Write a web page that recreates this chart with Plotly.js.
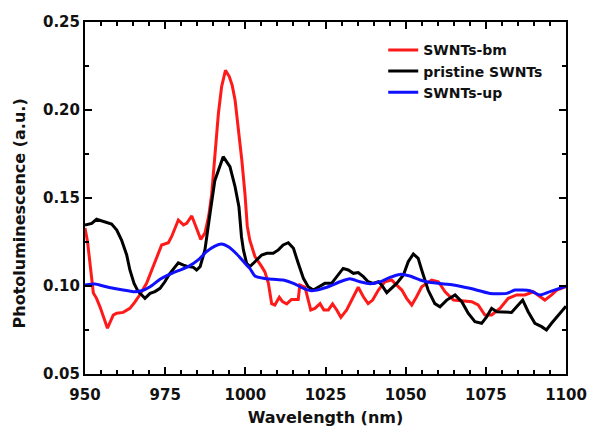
<!DOCTYPE html>
<html>
<head>
<meta charset="utf-8">
<script src="https://cdn.plot.ly/plotly-3.0.1.min.js"></script>
<style>
html,body{margin:0;padding:0;background:#fff;}
#chart{width:589px;height:429px;}
</style>
</head>
<body>
<div id="chart"></div>
<script>
// SWNTs-bm (red)
var bmX = [950.0,950.8,952.6,953.6,954.7,957.0,958.8,959.9,961.9,964.0,965.6,967.1,969.2,970.8,972.9,973.9,976.0,977.0,979.1,980.7,981.7,983.3,984.6,986.1,987.4,988.6,989.5,990.5,991.6,992.6,993.8,995.0,995.9,996.8,997.8,998.9,999.9,1000.6,1001.4,1003.0,1005.1,1006.1,1007.2,1008.2,1009.2,1010.6,1011.6,1012.9,1014.4,1016.5,1017.0,1018.6,1020.4,1021.7,1023.3,1024.5,1025.9,1027.2,1028.5,1029.8,1031.6,1033.7,1035.2,1036.8,1038.3,1039.7,1041.5,1043.5,1045.6,1047.2,1048.8,1050.3,1051.9,1053.4,1055.0,1058.1,1060.2,1062.3,1064.9,1070.6,1072.6,1074.7,1076.8,1079.4,1082.0,1084.6,1087.2,1089.8,1091.9,1093.4,1095.5,1097.1,1100.0];
var bmY = [0.133,0.125,0.096,0.093,0.088,0.076,0.0835,0.0845,0.085,0.0873,0.091,0.095,0.1015,0.109,0.1186,0.1233,0.1246,0.128,0.1375,0.1347,0.1356,0.1398,0.1337,0.1265,0.130,0.140,0.152,0.175,0.198,0.2132,0.2225,0.219,0.214,0.2057,0.1905,0.1716,0.152,0.134,0.126,0.1167,0.111,0.108,0.1015,0.090,0.0892,0.0936,0.0911,0.0898,0.0924,0.0924,0.1006,0.0993,0.0864,0.0873,0.090,0.0864,0.0864,0.0898,0.0864,0.0822,0.0864,0.0939,0.0993,0.0939,0.090,0.092,0.0977,0.1024,0.1034,0.1005,0.0977,0.093,0.0892,0.0939,0.0996,0.1034,0.1024,0.0967,0.092,0.0911,0.0892,0.0835,0.0835,0.0873,0.093,0.0949,0.0949,0.0967,0.0939,0.092,0.0949,0.0977,0.0996];

// pristine SWNTs (black)
var prX = [950.0,952.1,953.6,955.2,956.8,958.3,959.9,961.4,963.0,964.0,965.3,966.6,967.7,968.7,970.3,971.8,973.4,974.9,976.5,978.1,979.1,980.7,982.2,983.8,984.8,985.9,987.4,989.0,990.5,993.1,995.2,996.8,998.0,998.8,999.4,1000.4,1001.4,1003.0,1005.1,1006.7,1008.7,1010.3,1011.8,1013.4,1015.0,1016.5,1018.1,1019.6,1021.2,1022.7,1024.8,1026.9,1028.5,1030.5,1032.1,1033.7,1035.2,1036.8,1038.3,1039.9,1041.5,1042.5,1044.1,1045.6,1047.2,1049.3,1050.8,1052.4,1053.9,1055.0,1057.0,1059.1,1060.7,1062.8,1065.4,1067.5,1069.5,1071.6,1073.7,1075.3,1076.8,1078.4,1080.4,1083.0,1085.1,1086.5,1088.2,1090.3,1092.4,1093.9,1095.5,1097.6,1100.0];
var prY = [0.1347,0.1356,0.1379,0.1371,0.136,0.1352,0.1318,0.1261,0.1176,0.1091,0.1015,0.0968,0.0949,0.093,0.0958,0.0968,0.0987,0.1024,0.1072,0.111,0.1132,0.1119,0.111,0.1106,0.1091,0.111,0.1205,0.1413,0.160,0.1735,0.1678,0.1564,0.145,0.128,0.1205,0.1129,0.111,0.1138,0.1176,0.1186,0.1186,0.1205,0.1233,0.1246,0.1214,0.1129,0.1044,0.0996,0.0977,0.0993,0.1015,0.1015,0.1053,0.110,0.1091,0.1072,0.1076,0.1053,0.1024,0.1015,0.1024,0.1006,0.0962,0.0987,0.1015,0.1063,0.1138,0.1182,0.1157,0.1091,0.0977,0.090,0.0882,0.092,0.0949,0.0911,0.0845,0.0797,0.0788,0.0826,0.0873,0.0854,0.0854,0.085,0.0892,0.092,0.0854,0.0788,0.0769,0.075,0.0788,0.0835,0.0885];

// SWNTs-up (blue)
var upX = [950.0,953.1,955.7,958.8,961.9,965.1,967.7,970.3,973.4,976.0,979.1,982.2,985.3,987.9,990.5,992.6,994.7,997.3,999.9,1001.4,1003.0,1005.6,1008.7,1011.8,1015.0,1018.1,1020.7,1023.3,1026.4,1029.5,1032.6,1035.7,1038.9,1042.0,1045.1,1048.2,1051.3,1054.5,1056.5,1060.0,1064.9,1070.0,1076.3,1081.5,1084.1,1088.8,1091.9,1095.0,1100.0];
var upY = [0.1005,0.1011,0.100,0.0987,0.0977,0.0968,0.0973,0.0996,0.1038,0.1063,0.1087,0.111,0.1148,0.1195,0.1227,0.1239,0.1223,0.1182,0.1129,0.110,0.1057,0.1044,0.1038,0.1034,0.1015,0.0987,0.0973,0.0981,0.100,0.1024,0.1041,0.1024,0.1013,0.1024,0.1049,0.1066,0.1057,0.1034,0.1024,0.1015,0.1006,0.0987,0.0958,0.0958,0.0977,0.0973,0.0949,0.0968,0.0999];

// major tick values (labels) and minor tick steps
var xTicks = [950,975,1000,1025,1050,1075,1100];
var yTicks = [0.05,0.10,0.15,0.20,0.25];
var xMinorStep = 5;
var yMinorStep = 0.025;

var FONT = 'DejaVu Sans, sans-serif';
var INK = '#111111';

var traces = [
  {x: bmX, y: bmY, name: 'SWNTs-bm', mode: 'lines', line: {color: '#ff1a1a', width: 3}},
  {x: prX, y: prY, name: 'pristine SWNTs', mode: 'lines', line: {color: '#000000', width: 3}},
  {x: upX, y: upY, name: 'SWNTs-up', mode: 'lines', line: {color: '#1010ff', width: 3, shape: 'spline', smoothing: 0.6}}
];

var axisCommon = {
  showline: true, linecolor: '#000', linewidth: 2, mirror: 'allticks',
  ticks: 'inside', ticklen: 7, tickwidth: 2, tickcolor: '#000',
  showgrid: false, zeroline: false,
  tickfont: {family: FONT, size: 15, color: INK, weight: 'bold'}
};

var layout = {
  width: 589, height: 429,
  margin: {l: 85, r: 23, t: 22, b: 55},
  showlegend: true,
  legend: {
    x: 0.62, y: 0.965, xanchor: 'left', yanchor: 'top',
    bgcolor: 'rgba(0,0,0,0)', borderwidth: 0,
    font: {family: FONT, size: 14, color: INK, weight: 'bold'}
  },
  xaxis: Object.assign({}, axisCommon, {
    range: [xTicks[0], xTicks[xTicks.length - 1]],
    tickmode: 'linear', tick0: xTicks[0], dtick: xTicks[1] - xTicks[0],
    ticklabelstandoff: 6,
    minor: {dtick: xMinorStep, ticks: 'inside', ticklen: 4, tickwidth: 2, tickcolor: '#000'},
    title: {text: 'Wavelength (nm)', font: {family: FONT, size: 16, color: INK, weight: 'bold'}, standoff: 9}
  }),
  yaxis: Object.assign({}, axisCommon, {
    range: [yTicks[0], yTicks[yTicks.length - 1]],
    tickmode: 'linear', tick0: yTicks[0], dtick: yTicks[1] - yTicks[0], tickformat: '.2f',
    minor: {dtick: yMinorStep, ticks: 'inside', ticklen: 4, tickwidth: 2, tickcolor: '#000'}
  }),
  annotations: [{
    text: 'Photoluminescence (a.u.)', xref: 'paper', yref: 'paper',
    x: -0.136, y: 0.455, xanchor: 'center', yanchor: 'middle', textangle: -90,
    showarrow: false, font: {family: FONT, size: 16, color: INK, weight: 'bold'}
  }]
};

Plotly.newPlot('chart', traces, layout, {displayModeBar: false, staticPlot: true});
</script>
</body>
</html>
